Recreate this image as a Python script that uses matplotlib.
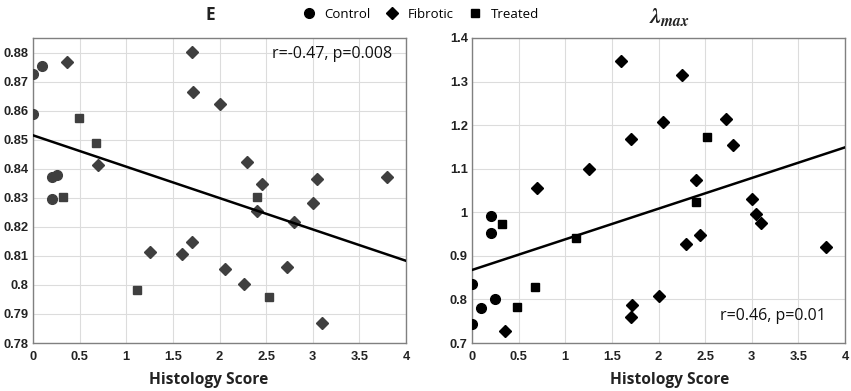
import matplotlib
matplotlib.use("Agg")
import matplotlib.pyplot as plt
from matplotlib.lines import Line2D

plt.rcParams['mathtext.fontset'] = 'stix'

# ---------------- data: E panel ----------------
E_control_x = [0.0, 0.1, 0.0, 0.2, 0.26, 0.2]
E_control_y = [0.8726, 0.8754, 0.8589, 0.8371, 0.8378, 0.8296]
E_fibrotic_x = [0.36, 1.70, 1.72, 2.0, 0.70, 2.30, 2.46, 3.05, 3.80,
                2.40, 2.80, 3.0, 1.25, 1.60, 1.70, 2.06, 2.26, 2.72, 3.10]
E_fibrotic_y = [0.8767, 0.8803, 0.8663, 0.8623, 0.8413, 0.8422, 0.8347, 0.8364, 0.8372,
                0.8253, 0.8215, 0.8283, 0.8112, 0.8107, 0.8146, 0.8056, 0.8003, 0.8062, 0.7869]
E_treated_x = [0.49, 0.68, 0.32, 2.40, 1.12, 2.53]
E_treated_y = [0.8575, 0.8489, 0.8302, 0.8304, 0.7984, 0.7959]
E_fit_x = [0, 4]
E_fit_y = [0.8515, 0.8083]
E_label = "r=-0.47, p=0.008"

# ---------------- data: lambda_max panel ----------------
L_control_x = [0.2, 0.2, 0.0, 0.1, 0.25, 0.0]
L_control_y = [0.991, 0.953, 0.835, 0.781, 0.802, 0.744]
L_fibrotic_x = [1.60, 2.25, 2.05, 1.70, 2.72, 2.80, 1.25, 0.70, 2.40,
                3.0, 3.05, 3.10, 2.45, 2.30, 3.80, 2.0, 1.72, 1.70, 0.35]
L_fibrotic_y = [1.348, 1.314, 1.208, 1.168, 1.213, 1.154, 1.099, 1.055, 1.074,
                1.031, 0.997, 0.975, 0.948, 0.927, 0.920, 0.807, 0.788, 0.760, 0.728]
L_treated_x = [2.52, 0.32, 1.12, 2.40, 0.68, 0.48]
L_treated_y = [1.173, 0.972, 0.942, 1.024, 0.829, 0.783]
L_fit_x = [0, 4]
L_fit_y = [0.8676, 1.149]
L_label = "r=0.46, p=0.01"

x_ticks = [0, 0.5, 1, 1.5, 2, 2.5, 3, 3.5, 4]
x_ticklabels = ['0', '0.5', '1', '1.5', '2', '2.5', '3', '3.5', '4']
E_ticks = [0.78, 0.79, 0.80, 0.81, 0.82, 0.83, 0.84, 0.85, 0.86, 0.87, 0.88]
E_ticklabels = ['0.78', '0.79', '0.8', '0.81', '0.82', '0.83', '0.84', '0.85', '0.86', '0.87', '0.88']
L_ticks = [0.7, 0.8, 0.9, 1.0, 1.1, 1.2, 1.3, 1.4]
L_ticklabels = ['0.7', '0.8', '0.9', '1', '1.1', '1.2', '1.3', '1.4']

fig = plt.figure(figsize=(8.51, 3.91), dpi=100)
axL = fig.add_axes([33/851, 48/391, 373/851, 305/391])
axR = fig.add_axes([472/851, 48/391, 373/851, 305/391])

tick_font = dict(family='Liberation Sans', weight='bold', size=9.3)
label_font = dict(family='Open Sans', weight='bold', size=11.2)


def style(ax, ylim, yticks, yticklabels, label_x):
    ax.set_xlim(0, 4)
    ax.set_ylim(*ylim)
    ax.set_xticks(x_ticks)
    ax.set_xticklabels(x_ticklabels, fontdict=tick_font)
    ax.set_yticks(yticks)
    ax.set_yticklabels(yticklabels, fontdict=tick_font)
    ax.grid(True, color='#dcdcdc', linewidth=0.8)
    ax.set_axisbelow(True)
    for s in ax.spines.values():
        s.set_color('#808080')
        s.set_linewidth(1.0)
    ax.tick_params(axis='x', length=0, pad=6, colors='#222222')
    ax.tick_params(axis='y', length=0, pad=3, colors='#222222')
    ax.set_xlabel('Histology Score', fontdict=label_font, color='#222222')
    ax.xaxis.set_label_coords(label_x, -0.095)
    ax.xaxis.label.set_va('top')


ms = 6.5
gray = '#3f3f3f'
axL.plot(E_control_x, E_control_y, 'o', color=gray, ms=ms + 0.5, zorder=3)
axL.plot(E_fibrotic_x, E_fibrotic_y, 'D', color=gray, ms=ms - 0.5, zorder=3)
axL.plot(E_treated_x, E_treated_y, 's', color=gray, ms=ms - 0.8, zorder=3)
axL.plot(E_fit_x, E_fit_y, '-', color='black', lw=1.8, zorder=4)
style(axL, (0.78, 0.885), E_ticks, E_ticklabels, 0.472)
axL.text(3.85, 0.8795, E_label, ha='right', va='center', family='Open Sans', size=11.5, color='#111111')

axR.plot(L_control_x, L_control_y, 'o', color='black', ms=ms + 0.5, zorder=3)
axR.plot(L_fibrotic_x, L_fibrotic_y, 'D', color='black', ms=ms - 0.5, zorder=3)
axR.plot(L_treated_x, L_treated_y, 's', color='black', ms=ms - 0.8, zorder=3)
axR.plot(L_fit_x, L_fit_y, '-', color='black', lw=1.8, zorder=4)
style(axR, (0.7, 1.4), L_ticks, L_ticklabels, 0.531)
axR.text(3.8, 0.762, L_label, ha='right', va='center', family='Open Sans', size=11.5, color='#111111')

fig.text(210/851, 1 - 15/391, 'E', ha='center', va='center', family='Open Sans', weight='bold', size=12.5, color='#222222')
fig.text(670/851, 1 - 17/391, r'$\mathbfit{\lambda}_{\mathbfit{max}}$', ha='center', va='center', size=16, color='#222222')

handles = [Line2D([], [], marker='o', ls='none', color='black', ms=7),
           Line2D([], [], marker='D', ls='none', color='black', ms=6.5),
           Line2D([], [], marker='s', ls='none', color='black', ms=5.5)]
fig.legend(handles, ['Control', 'Fibrotic', 'Treated'], loc='center', bbox_to_anchor=(420/851, 1 - 14/391),
           ncol=3, frameon=False, prop=dict(family='Open Sans', size=9.5), handletextpad=0.6,
           columnspacing=1.0, handlelength=1.2)

fig.savefig('out.png', dpi=100)
